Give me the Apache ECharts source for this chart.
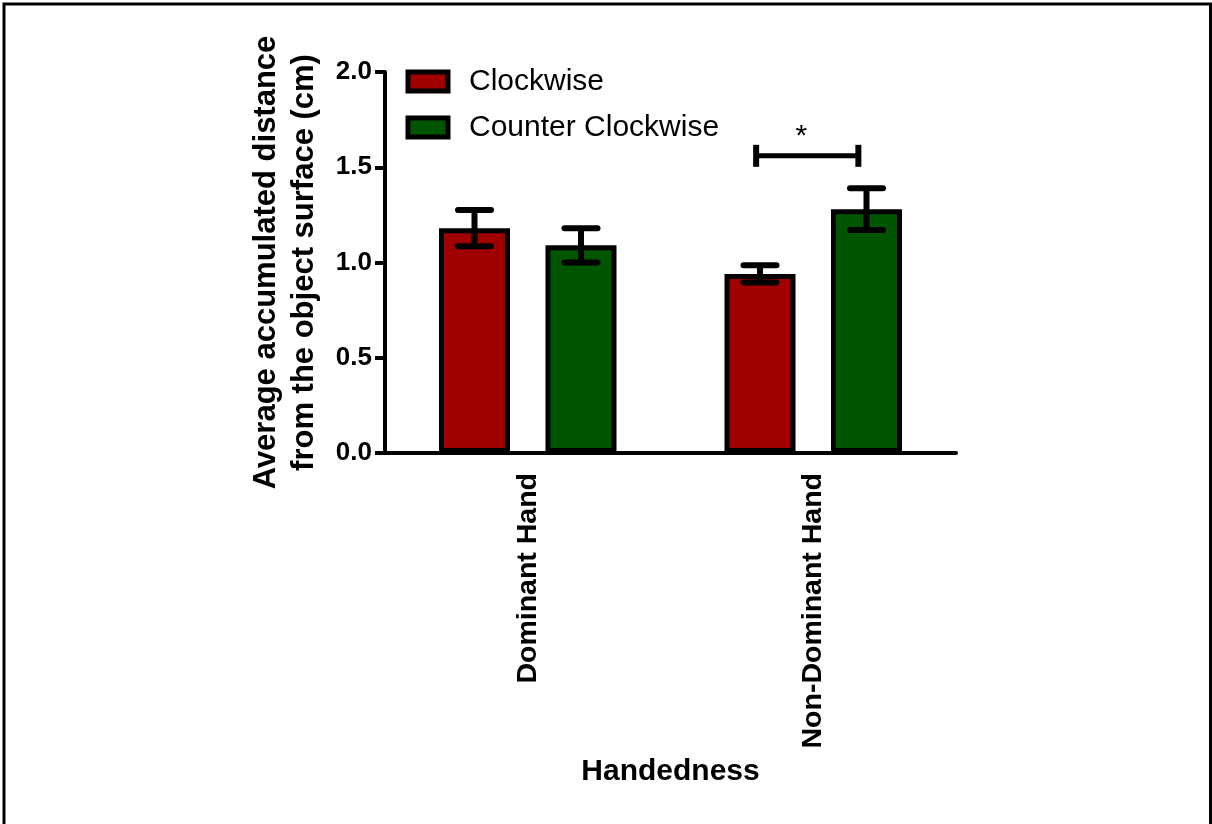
<!DOCTYPE html>
<html>
<head>
<meta charset="utf-8">
<script src="https://cdn.jsdelivr.net/npm/echarts@6/dist/echarts.min.js"></script>
<style>
html,body{margin:0;padding:0;background:#fff;}
#chart{width:1212px;height:824px;}
</style>
</head>
<body>
<div id="chart"></div>
<script>
// ---- data ----
const categories = ['Dominant Hand', 'Non-Dominant Hand'];
const seriesNames = ['Clockwise', 'Counter Clockwise'];
const clockwiseMean = [1.18, 0.94];
const clockwiseSem = [0.095, 0.045];
const counterMean = [1.09, 1.28];
const counterSem = [0.09, 0.11];
const yMin = 0, yMax = 2.0, yStep = 0.5;
const sigCategory = [1];
const sigLevel = [1.56];
const sigLabel = ['*'];

// ---- style ----
const FONT = '"Liberation Sans", Arial, sans-serif';
const RED = '#A00000';
const GREEN = '#005500';
const BAR_W = 71;
const BAR_GAP = 0.5;
const OFFSET = (BAR_W * (1 + BAR_GAP)) / 2;

function errRender(sign) {
  return function (params, api) {
    const ci = api.value(0), m = api.value(1), s = api.value(2);
    const c = api.coord([ci, m]);
    const x = c[0] + sign * OFFSET;
    const yt = api.coord([ci, m + s])[1];
    const yb = api.coord([ci, m - s])[1];
    const st = {stroke: '#000', lineWidth: 6, lineCap: 'round'};
    return {
      type: 'group',
      children: [
        {type: 'line', shape: {x1: x, y1: yt, x2: x, y2: yb}, style: {stroke: '#000', lineWidth: 6}},
        {type: 'line', shape: {x1: x - 16.5, y1: yt, x2: x + 16.5, y2: yt}, style: st},
        {type: 'line', shape: {x1: x - 16.5, y1: yb, x2: x + 16.5, y2: yb}, style: st}
      ]
    };
  };
}

function sigRender(params, api) {
  const ci = api.value(0), lv = api.value(1);
  const c = api.coord([ci, lv]);
  const band = api.size([1, 0])[0];
  const x1 = c[0] - 0.2 * band, x2 = c[0] + 0.158 * band;
  const y = c[1];
  return {
    type: 'group',
    children: [
      {type: 'line', shape: {x1: x1, y1: y, x2: x2, y2: y}, style: {stroke: '#000', lineWidth: 5}},
      {type: 'line', shape: {x1: x1, y1: y - 11, x2: x1, y2: y + 11}, style: {stroke: '#000', lineWidth: 6}},
      {type: 'line', shape: {x1: x2, y1: y - 11, x2: x2, y2: y + 11}, style: {stroke: '#000', lineWidth: 6}},
      {type: 'text', style: {text: sigLabel[params.dataIndex], x: (x1 + x2) / 2 - 6, y: y - 19,
        fill: '#000', font: '30px ' + FONT, align: 'center', verticalAlign: 'middle'}}
    ]
  };
}

const chart = echarts.init(document.getElementById('chart'), null, {renderer: 'canvas'});
chart.setOption({
  backgroundColor: '#fff',
  animation: false,
  textStyle: {fontFamily: FONT},
  graphic: [{
    type: 'rect', shape: {x: 4, y: 4, width: 1206.5, height: 900},
    style: {fill: 'none', stroke: '#000', lineWidth: 3}, silent: true, z: 100
  }],
  grid: {left: 385, right: 256, top: 72, bottom: 371},
  legend: {
    data: seriesNames,
    orient: 'vertical',
    left: 405.5, top: 66.5,
    padding: 0,
    icon: 'rect',
    itemWidth: 40, itemHeight: 19,
    itemGap: 16,
    itemStyle: {borderColor: '#000', borderWidth: 5},
    textStyle: {fontFamily: FONT, fontSize: 30, color: '#000', lineHeight: 30, padding: [0, 0, 0, 16]},
    selectedMode: false
  },
  xAxis: {
    type: 'category',
    data: categories,
    name: 'Handedness',
    nameLocation: 'middle',
    nameGap: 304,
    nameTextStyle: {fontFamily: FONT, fontSize: 30, fontWeight: 'bold', color: '#000'},
    axisLine: {lineStyle: {color: '#000', width: 4}},
    axisTick: {alignWithLabel: true, length: 10, lineStyle: {color: '#000', width: 3}},
    axisLabel: {rotate: 90, margin: 20, fontFamily: FONT, fontSize: 28.5, fontWeight: 'bold', color: '#000'},
    splitLine: {show: false}
  },
  yAxis: {
    type: 'value',
    min: yMin, max: yMax, interval: yStep,
    name: 'Average accumulated distance\nfrom the object surface (cm)',
    nameLocation: 'middle',
    nameGap: 62,
    nameTextStyle: {fontFamily: FONT, fontSize: 31, fontWeight: 'bold', color: '#000', lineHeight: 37.5, align: 'center'},
    axisLine: {show: true, lineStyle: {color: '#000', width: 4}},
    axisTick: {show: true, length: 10, lineStyle: {color: '#000', width: 4}},
    axisLabel: {margin: 13, fontFamily: FONT, fontSize: 26, fontWeight: 'bold', color: '#000',
      formatter: v => v.toFixed(1)},
    splitLine: {show: false}
  },
  series: [
    {name: seriesNames[0], type: 'bar', data: clockwiseMean, barWidth: BAR_W, barGap: '50%',
      itemStyle: {color: RED, borderColor: '#000', borderWidth: 5}},
    {name: seriesNames[1], type: 'bar', data: counterMean, barWidth: BAR_W, barGap: '50%',
      itemStyle: {color: GREEN, borderColor: '#000', borderWidth: 5}},
    {name: 'cwErr', type: 'custom', renderItem: errRender(-1), z: 10, clip: false,
      data: categories.map((c, i) => [i, clockwiseMean[i], clockwiseSem[i]]), encode: {x: 0, y: 1}},
    {name: 'ccwErr', type: 'custom', renderItem: errRender(1), z: 10, clip: false,
      data: categories.map((c, i) => [i, counterMean[i], counterSem[i]]), encode: {x: 0, y: 1}},
    {name: 'sig', type: 'custom', renderItem: sigRender, z: 10, clip: false,
      data: sigCategory.map((c, i) => [c, sigLevel[i]]), encode: {x: 0, y: 1}}
  ]
});
</script>
</body>
</html>
